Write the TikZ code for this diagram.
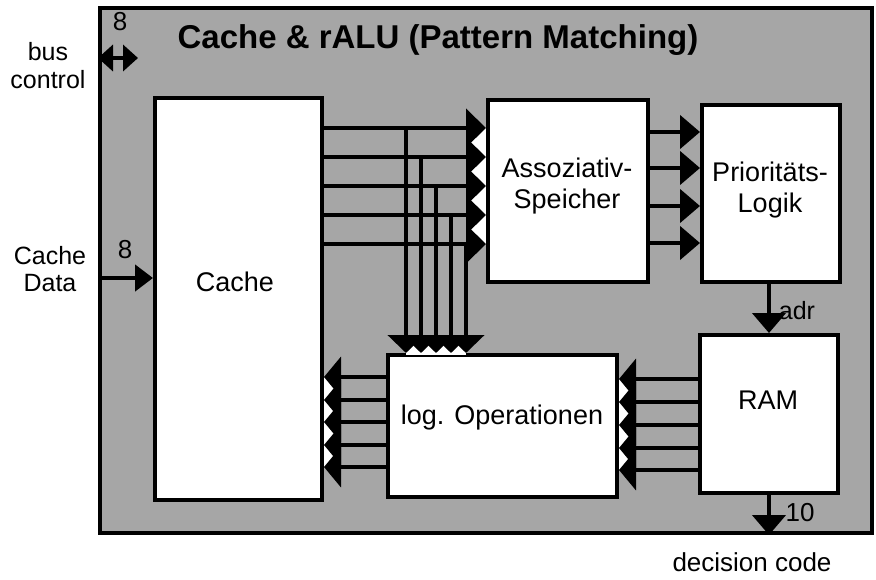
\documentclass[tikz,border=0pt]{standalone}
\usepackage{fontspec}
\setmainfont{Liberation Sans}
\usetikzlibrary{arrows.meta}

\tikzset{
  blk/.style={draw,line width=4pt,fill=white,inner sep=0pt},
  txt/.style={font=\fontsize{27}{31}\selectfont,align=center,inner sep=0pt},
  wire/.style={line width=4.5pt},
  fat/.style={wire,-{Triangle[length=20pt,width=33pt]}},
  wide/.style={wire,-{Triangle[length=20pt,width=38pt]}},
  comb/.style={wire,-{Triangle[length=18pt,width=36pt]}},
  back/.style={wire,-{Triangle[length=17pt,width=40pt]}}
}

\begin{document}
\begin{tikzpicture}[x=1pt,y=-1pt]
\useasboundingbox (0,0) rectangle (876,579);
% gray module frame
\node[draw,line width=4pt,fill=black!35,minimum width=772pt,minimum height=525pt,inner sep=0pt] (frame) at (486,270.5) {};
\node[font=\fontsize{33}{36}\bfseries\selectfont,inner sep=0pt] (title) at (438,40) {Cache \& rALU (Pattern Matching)};

% blocks
\node[blk,minimum width=167pt,minimum height=402pt] (cache) at (238.5,299) {};
\node[blk,minimum width=160pt,minimum height=182pt] (assoz) at (568,191) {};
\node[blk,minimum width=138pt,minimum height=177pt] (prio) at (771,193.5) {};
\node[blk,minimum width=138pt,minimum height=158pt] (ram) at (769,414) {};
\node[blk,minimum width=229pt,minimum height=142pt] (logop) at (502.5,426) {};
\node[txt] (cachetxt) at (235,282) {Cache};
\node[txt] (assoztxt) at (567,186) {Assoziativ-\\Speicher};
\node[txt] (priotxt) at (770,190) {Prioritäts-\\Logik};
\node[txt] (ramtxt) at (768,400) {RAM};
\node[txt] (logoptxt) at (502,418) {log. Operationen};

% white gaps between the stacked arrow heads
\fill[white] (assoz.west |- 0,128) rectangle ++(-15,116);
\fill[white] (406,341) rectangle (466,355);
\fill[white] (cache.east |- 0,377) rectangle ++(14,90);
\fill[white] (logop.east |- 0,379) rectangle ++(14,91);

% cache -> assoziativ-speicher, taps down to log. operationen
\foreach \x/\y [count=\i] in {406/128,421/157,436/186,451/215,466/244} {
  \draw[wide] (cache.east |- 0,\y) -- (assoz.west |- 0,\y);
  \coordinate (tap\i) at (\x,\y);
  \draw[comb] (tap\i) -- (tap\i |- logop.north);
}
% log. operationen -> cache
\foreach \y in {377,400,422,445,467}
  \draw[back] (logop.west |- 0,\y) -- (cache.east |- 0,\y);
% ram -> log. operationen
\foreach \y in {379,402,425,448,470}
  \draw[back] (ram.west |- 0,\y) -- (logop.east |- 0,\y);
% assoziativ-speicher -> prioritaets-logik
\foreach \y in {132,168,206,243}
  \draw[fat] (assoz.east |- 0,\y) -- (prio.west |- 0,\y);

\draw[fat] (prio.south -| ram.north) -- (ram.north);
\node[txt,font=\fontsize{25}{28}\selectfont] (adr) at (797,311) {adr};
\draw[fat] (ram.south) -- (ram.south |- frame.south);
\node[txt,font=\fontsize{26}{28}\selectfont] (ten) at (800,513) {10};
\node[txt,font=\fontsize{26}{28}\selectfont] (deccode) at (752,562) {decision code};

% inputs on the left
\coordinate (busend) at (138,58);
\draw[wire,{Triangle[length=15pt,width=26pt]}-{Triangle[length=15pt,width=26pt]}] (frame.west |- busend) -- (busend);
\node[txt,font=\fontsize{26}{28}\selectfont] (buswidth) at (120,22) {8};
\node[txt,font=\fontsize{25}{28}\selectfont] (buslbl) at (48,66) {bus\\control};
\draw[wire,-{Triangle[length=18pt,width=26pt]}] (frame.west |- 0,278) -- (cache.west |- 0,278);
\node[txt,font=\fontsize{26}{28}\selectfont] (datawidth) at (125,250) {8};
\node[txt,font=\fontsize{25}{27}\selectfont] (datalbl) at (50,269) {Cache\\Data};
\end{tikzpicture}
\end{document}
